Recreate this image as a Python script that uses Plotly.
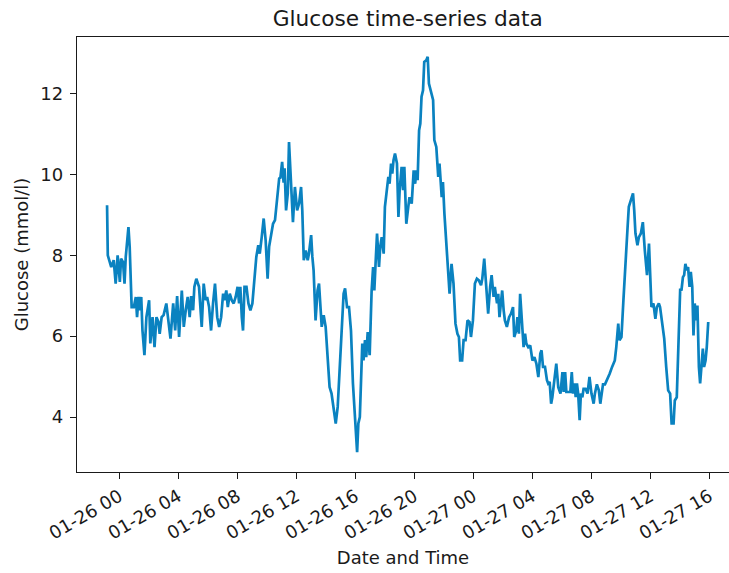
import pandas as pd
import plotly.graph_objects as go

# ---- data ----
start_day = "2023-01-26 00:00"

# minutes after 01-26 00:00 of each plotted reading
reading_minutes = [
    -50, -47, -33, -23, -15, -7, 2, 7, 15, 21, 26, 37, 42, 50, 59, 67, 72, 78, 83, 89,
    94, 102, 110, 121, 126, 135, 143, 151, 159, 164, 172, 180, 191, 200, 208, 219, 227, 235, 243, 254,
    262, 270, 278, 286, 292, 300,
    305, 313, 324, 335, 343, 351, 357, 365, 373, 381, 389, 398, 406, 414, 422, 427, 435, 441, 449, 457,
    465, 473, 481, 487, 492, 498, 503, 509, 517, 525, 533, 541, 549, 557, 565, 571, 579, 587, 595, 603,
    609, 617, 625, 633, 639, 644, 650, 655,
    662, 668, 672, 678, 685, 690, 698, 706, 714, 723, 731, 739, 744, 750, 758, 766, 771, 780, 785, 790,
    798, 806, 812, 817, 823, 831, 839, 847, 855, 863, 872, 880, 888, 896, 904, 912, 918, 926, 934, 942,
    950, 959, 967, 972, 978, 983, 988, 993, 999, 1004, 1010, 1018,
    1026, 1032, 1037, 1042, 1048, 1056, 1061, 1067, 1075, 1080, 1089, 1094, 1099, 1105, 1110, 1115, 1121, 1129, 1135, 1140,
    1148, 1154, 1159, 1167, 1175, 1180, 1189, 1194, 1197, 1203, 1208, 1213, 1219, 1224, 1229, 1235, 1240, 1248, 1254, 1259,
    1267, 1276, 1281, 1289, 1297, 1302, 1311, 1316, 1322, 1330, 1338, 1343, 1351, 1359, 1367, 1375, 1381, 1386, 1394, 1400,
    1408, 1416, 1424, 1430, 1438, 1446, 1454, 1462, 1471, 1476, 1484, 1492, 1500, 1508, 1514, 1522, 1527, 1536, 1541, 1546,
    1552, 1557, 1563, 1568, 1576, 1585, 1593, 1601, 1606, 1614, 1619, 1625, 1630, 1639, 1644, 1650, 1655, 1663, 1671, 1680,
    1688, 1696, 1704, 1712, 1717, 1723, 1731, 1739, 1744, 1750, 1756, 1761, 1769, 1777, 1785, 1794, 1802, 1807, 1813, 1818,
    1826, 1834, 1840, 1845, 1851, 1856, 1861, 1866, 1872, 1877, 1883, 1888, 1896, 1904, 1912, 1920, 1929, 1934, 1942, 1950,
    1956, 1961, 1967, 1975, 1983, 1994, 2004, 2015, 2021, 2029, 2034, 2042, 2050, 2059, 2067, 2072, 2081, 2089, 2094, 2099,
    2107, 2113, 2121, 2129, 2137, 2146, 2154, 2159, 2164, 2172, 2180, 2186, 2194, 2199, 2208, 2216, 2224, 2232, 2240, 2246,
    2254, 2259, 2267, 2275, 2281, 2286, 2292, 2297, 2302, 2308, 2313, 2319, 2324, 2330, 2335, 2340, 2346, 2351, 2357, 2362,
    2367, 2373, 2378, 2384, 2389, 2395,
]

glucose_mmol = [
    9.24, 8.0, 7.71, 7.88, 7.30, 8.0, 7.34, 7.92, 7.83, 7.3, 7.96, 8.70, 8.21, 6.72, 6.72, 6.97, 6.47, 6.97, 6.64, 6.97,
    6.14, 5.53, 6.47, 6.89, 5.82, 6.47, 5.73, 6.47, 6.35, 6.06, 6.47, 6.52, 6.81, 6.39, 5.94, 6.81, 6.14, 6.99, 5.98, 7.13,
    6.23, 6.64, 6.97, 6.47, 6.99, 6.64,
    7.22, 7.42, 7.22, 6.23, 7.30, 6.89, 6.97, 6.72, 6.14, 6.81, 7.30, 6.47, 6.23, 6.47, 7.05, 6.89, 7.13, 6.72, 7.05, 6.89,
    6.81, 6.97, 7.22, 6.81, 7.22, 6.47, 6.14, 7.22, 7.22, 6.81, 6.64, 6.81, 7.30, 7.96, 8.25, 8.04, 8.45, 8.91, 8.37, 7.42,
    8.21, 8.54, 8.78, 8.87, 9.20, 9.44, 9.90, 9.92,
    10.31, 9.80, 10.15, 9.11, 9.53, 10.80, 9.77, 8.82, 9.69, 9.11, 9.28, 9.69, 9.11, 7.88, 8.12, 7.88, 8.04, 8.50, 7.96, 7.63,
    6.39, 7.13, 7.30, 6.72, 6.23, 6.52, 6.23, 5.48, 4.74, 4.58, 4.17, 3.84, 4.25, 5.16, 6.14, 7.05, 7.18, 6.72, 6.72, 6.14,
    4.83, 3.84, 3.13, 3.84, 4.00, 4.91, 5.82, 5.40, 5.90, 5.48, 6.10, 5.53,
    7.13, 7.71, 7.13, 7.79, 8.54, 7.71, 8.21, 8.45, 8.04, 9.20, 9.77, 9.94, 9.77, 10.27, 10.02, 10.35, 10.52, 10.27, 8.95, 9.61,
    10.19, 9.61, 10.19, 8.78, 9.20, 9.44, 9.28, 9.69, 10.10, 9.77, 10.10, 9.86, 11.09, 11.26, 11.92, 12.08, 12.78, 12.82, 12.91, 12.25,
    12.08, 11.84, 10.85, 10.68, 9.94, 10.27, 9.44, 9.81, 9.03, 8.29, 7.79, 7.05, 7.79, 7.30, 6.31, 6.06, 5.98, 5.40, 5.40, 5.90,
    5.90, 6.39, 6.35, 5.98, 6.39, 7.30, 7.42, 7.38, 7.26, 7.42, 7.92, 7.13, 6.56, 7.22, 7.51, 6.97, 7.22, 6.81, 7.05, 6.47,
    6.81, 7.13, 6.64, 6.39, 6.23, 6.47, 6.56, 6.72, 5.98, 6.14, 6.47, 6.06, 7.05, 6.14, 5.73, 6.06, 5.82, 5.73, 5.77, 5.40,
    5.48, 5.32, 4.99, 5.57, 5.65, 5.24, 5.24, 4.91, 4.83, 4.87, 4.33, 4.49, 4.95, 5.32, 4.74, 4.58, 5.11, 4.62, 5.11, 4.62,
    4.62, 4.62, 5.11, 4.58, 4.83, 4.49, 4.83, 4.58, 3.92, 4.58, 4.49, 4.70, 4.70, 4.58, 4.99, 4.58, 4.33, 4.58, 4.81, 4.66,
    4.33, 4.58, 4.81, 4.81, 4.91, 5.07, 5.24, 5.40, 5.73, 6.31, 5.90, 5.98, 6.89, 8.04, 8.70, 9.20, 9.36, 9.53, 9.11, 8.54,
    8.25, 8.45, 8.54, 8.82, 8.12, 7.51, 8.29, 7.55, 6.72, 6.81, 6.43, 6.72, 6.81, 6.72, 6.23, 5.94, 5.24, 4.66, 4.58, 3.84,
    3.84, 4.41, 4.49, 6.39, 7.18, 7.13, 7.46, 7.51, 7.79, 7.63, 7.71, 7.22, 7.59, 7.22, 6.02, 6.81, 6.39, 6.76, 5.24, 4.83,
    5.24, 5.69, 5.24, 5.40, 5.73, 6.35,
]

tick_times = [
    "2023-01-26 00:00", "2023-01-26 04:00", "2023-01-26 08:00", "2023-01-26 12:00",
    "2023-01-26 16:00", "2023-01-26 20:00", "2023-01-27 00:00", "2023-01-27 04:00",
    "2023-01-27 08:00", "2023-01-27 12:00", "2023-01-27 16:00",
]
tick_labels = [
    "01-26 00", "01-26 04", "01-26 08", "01-26 12", "01-26 16", "01-26 20",
    "01-27 00", "01-27 04", "01-27 08", "01-27 12", "01-27 16",
]
y_ticks = [4, 6, 8, 10, 12]

n = min(len(reading_minutes), len(glucose_mmol))
times = pd.Timestamp(start_day) + pd.to_timedelta(reading_minutes[:n], unit="min")
values = glucose_mmol[:n]

# matplotlib-like 5% autoscale margins
span = times[-1] - times[0]
x_lo = times[0] - 0.05 * span
x_hi_full = times[-1] + 0.05 * span
# the reference axes box runs past the right edge of the picture
frac = (729 - 77.3) / (738.3 - 77.3)
x_hi = x_lo + (x_hi_full - x_lo) * frac

vmin, vmax = min(values), max(values)
vpad = 0.05 * (vmax - vmin)

FONT = "DejaVu Sans"
FS = 18
INK = "#1a1a1a"

fig = go.Figure()
fig.add_trace(go.Scatter(
    x=times, y=values, mode="lines",
    line=dict(color="#0a82c0", width=2.7),
    showlegend=False, hoverinfo="skip",
))

fig.update_layout(
    width=729, height=573,
    margin=dict(l=77, r=0, t=37, b=101),
    paper_bgcolor="white", plot_bgcolor="white",
    font=dict(family=FONT, size=FS, color=INK),
    title=dict(text="Glucose time-series data", x=(77.3 + 738.3) / 2 / 729, xanchor="center",
               y=1 - 18 / 573, yanchor="middle", yref="container",
               font=dict(family=FONT, size=21.7, color=INK)),
    xaxis=dict(
        range=[x_lo, x_hi],
        tickvals=tick_times, ticktext=tick_labels, tickangle=-30,
        showline=True, linecolor=INK, linewidth=1.4, mirror=True,
        ticks="outside", ticklen=6, tickwidth=1.4, tickcolor=INK,
        showgrid=False, zeroline=False,
        tickfont=dict(family=FONT, size=FS, color=INK),
        title=dict(text="Date and Time", standoff=8,
                   font=dict(family=FONT, size=FS, color=INK)),
    ),
    yaxis=dict(
        range=[vmin - vpad, vmax + vpad],
        tickvals=y_ticks,
        showline=True, linecolor=INK, linewidth=1.4, mirror=False,
        ticks="outside", ticklen=6, tickwidth=1.4, tickcolor=INK,
        showgrid=False, zeroline=False,
        tickfont=dict(family=FONT, size=FS, color=INK),
        ticklabelstandoff=3,
        title=dict(text="Glucose (mmol/l)", standoff=6,
                   font=dict(family=FONT, size=FS, color=INK)),
    ),
)

fig.write_html("out.html")
